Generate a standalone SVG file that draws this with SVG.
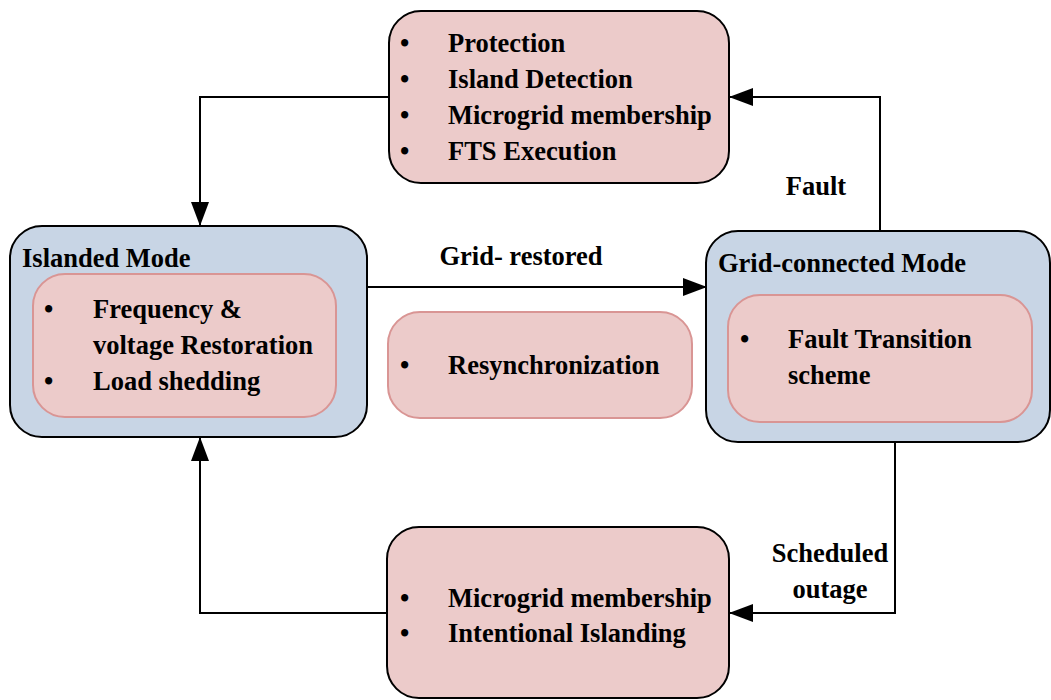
<svg xmlns="http://www.w3.org/2000/svg" width="1051" height="700" viewBox="0 0 1051 700">
<defs>
<marker id="arr" markerWidth="24" markerHeight="18" refX="23" refY="9" orient="auto" markerUnits="userSpaceOnUse">
<path d="M0,0 L24,9 L0,18 Z" fill="#000"/>
</marker>
<style>
.t{font-family:"Liberation Serif","Times New Roman",serif;font-weight:bold;font-size:26.5px;fill:#000}
.outer{fill:#C8D5E5;stroke:#000;stroke-width:2}
.task{fill:#ECCBCA;stroke:#000;stroke-width:2}
.inner{fill:#ECCBCA;stroke:#D99594;stroke-width:2}
.c{fill:none;stroke:#000;stroke-width:2}
</style>
</defs>
<rect width="1051" height="700" fill="#fff"/>
<g id="connectors">
<path class="c" d="M389,97 H200 V225" marker-end="url(#arr)"/>
<path class="c" d="M880,231 V97 H730" marker-end="url(#arr)"/>
<path class="c" d="M366,287 H706" marker-end="url(#arr)"/>
<path class="c" d="M895,442 V613 H730" marker-end="url(#arr)"/>
<path class="c" d="M387,613 H200 V438" marker-end="url(#arr)"/>
<text class="t" x="816" y="195" text-anchor="middle">Fault</text>
<text class="t" x="521" y="265" text-anchor="middle">Grid- restored</text>
<text class="t" x="830" y="562" text-anchor="middle">Scheduled</text>
<text class="t" x="830" y="598" text-anchor="middle">outage</text>
</g>
<g id="top-box">
<rect class="task" x="389" y="11" width="340" height="172" rx="32"/>
<text class="t" x="400" y="52">•</text>
<text class="t" x="448" y="52">Protection</text>
<text class="t" x="400" y="88">•</text>
<text class="t" x="448" y="88">Island Detection</text>
<text class="t" x="400" y="124">•</text>
<text class="t" x="448" y="124">Microgrid membership</text>
<text class="t" x="400" y="160">•</text>
<text class="t" x="448" y="160">FTS Execution</text>
</g>
<g id="islanded-mode">
<rect class="outer" x="10" y="226" width="357" height="211" rx="32"/>
<text class="t" x="22" y="267">Islanded Mode</text>
<rect class="inner" x="33" y="274" width="303" height="143" rx="32"/>
<text class="t" x="44" y="318">•</text>
<text class="t" x="93" y="318">Frequency &amp;</text>
<text class="t" x="93" y="354">voltage Restoration</text>
<text class="t" x="44" y="390">•</text>
<text class="t" x="93" y="390">Load shedding</text>
</g>
<g id="resync">
<rect class="inner" x="388" y="312" width="304" height="106" rx="32"/>
<text class="t" x="400" y="374">•</text>
<text class="t" x="448" y="374">Resynchronization</text>
</g>
<g id="grid-connected-mode">
<rect class="outer" x="706" y="231" width="344" height="211" rx="32"/>
<text class="t" x="718" y="272">Grid-connected Mode</text>
<rect class="inner" x="728" y="295" width="304" height="127" rx="32"/>
<text class="t" x="740" y="348">•</text>
<text class="t" x="788" y="348">Fault Transition</text>
<text class="t" x="788" y="384">scheme</text>
</g>
<g id="bottom-box">
<rect class="task" x="387" y="527" width="342" height="171" rx="32"/>
<text class="t" x="400" y="607">•</text>
<text class="t" x="448" y="607">Microgrid membership</text>
<text class="t" x="400" y="642">•</text>
<text class="t" x="448" y="642">Intentional Islanding</text>
</g>
</svg>
